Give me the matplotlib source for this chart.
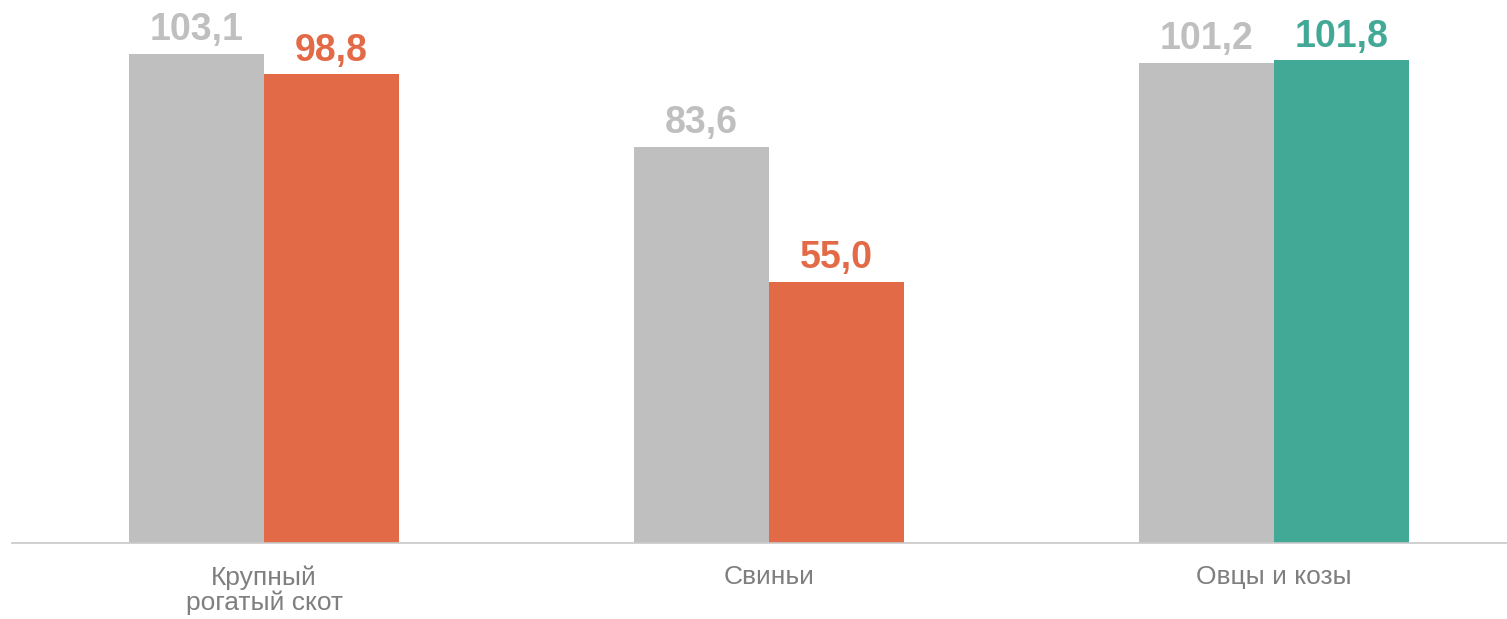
import matplotlib.pyplot as plt
import numpy as np

plt.rcParams['font.family'] = ['Liberation Sans', 'DejaVu Sans']

categories = ['Крупный\nрогатый скот', 'Свиньи', 'Овцы и козы']
prev_values = [103.1, 83.6, 101.2]
curr_values = [98.8, 55.0, 101.8]

gray = '#BFBFBF'
orange = '#E36A46'
teal = '#43A997'
curr_colors = [orange, orange, teal]

fig = plt.figure(figsize=(15.07, 6.19), dpi=100)
ax = fig.add_axes([12 / 1507, 76 / 619, 1495 / 1507, 543 / 619])

x = np.arange(len(categories))
w = 0.267

bars1 = ax.bar(x - w / 2, prev_values, w, color=gray)
bars2 = ax.bar(x + w / 2, curr_values, w, color=curr_colors)

# value labels above the bars
for b, v in zip(bars1, prev_values):
    ax.text(b.get_x() + b.get_width() / 2, v + 1.2, f'{v:.1f}'.replace('.', ','),
            ha='center', va='bottom', fontsize=27, fontweight='bold', color=gray)
for b, v, c in zip(bars2, curr_values, curr_colors):
    ax.text(b.get_x() + b.get_width() / 2, v + 1.2, f'{v:.1f}'.replace('.', ','),
            ha='center', va='bottom', fontsize=27, fontweight='bold', color=c)

ax.set_xlim(-0.499, 2.461)
ax.set_ylim(0, 114.5)
ax.set_xticks(x)
ax.set_xticklabels(categories, fontsize=19, color='#7F7F7F', linespacing=1.05)
ax.tick_params(axis='x', length=0, pad=16)
ax.set_yticks([])
for s in ['top', 'right', 'left']:
    ax.spines[s].set_visible(False)
ax.spines['bottom'].set_color('#C8C8C8')
ax.spines['bottom'].set_linewidth(1.2)

fig.savefig('out.png', dpi=100)
